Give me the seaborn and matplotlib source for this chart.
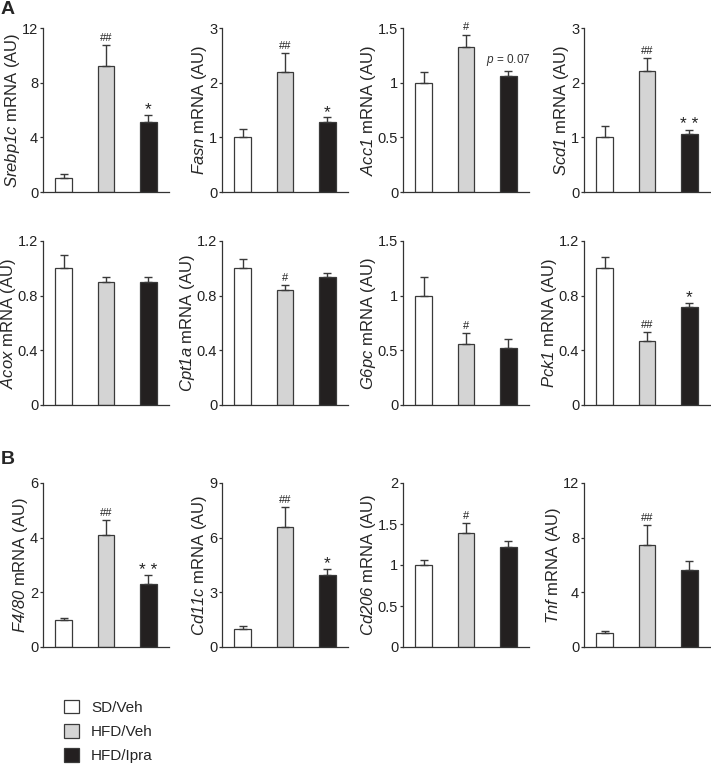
import numpy as np
import pandas as pd
import matplotlib
matplotlib.use("Agg")
import matplotlib.pyplot as plt
from matplotlib.patches import Patch
from matplotlib.ticker import FormatStrFormatter
import seaborn as sns

# Values (mean and upper SEM per gene)
genes = ["Srebp1c", "Fasn", "Acc1", "Scd1",
         "Acox", "Cpt1a", "G6pc", "Pck1",
         "F4/80", "Cd11c", "Cd206", "Tnf"]
groups = ["SD/Veh", "HFD/Veh", "HFD/Ipra"]

sd_veh = [1.0, 1.0, 1.0, 1.0, 1.0, 1.0, 1.0, 1.0, 1.0, 1.0, 1.0, 1.0]
sd_veh_err = [0.3, 0.15, 0.1, 0.2, 0.1, 0.07, 0.17, 0.08, 0.07, 0.17, 0.055, 0.2]
hfd_veh = [9.2, 2.2, 1.33, 2.22, 0.9, 0.84, 0.555, 0.47, 4.08, 6.57, 1.39, 7.45]
hfd_veh_err = [1.55, 0.35, 0.11, 0.23, 0.035, 0.04, 0.1, 0.065, 0.56, 1.1, 0.125, 1.45]
hfd_ipra = [5.1, 1.28, 1.06, 1.06, 0.9, 0.935, 0.525, 0.72, 2.32, 3.96, 1.225, 5.6]
hfd_ipra_err = [0.55, 0.09, 0.05, 0.08, 0.035, 0.033, 0.075, 0.03, 0.3, 0.33, 0.065, 0.7]

y_max = [12, 3, 1.5, 3, 1.2, 1.2, 1.5, 1.2, 6, 9, 2, 12]
y_step = [4, 1, 0.5, 1, 0.4, 0.4, 0.5, 0.4, 2, 3, 0.5, 4]

hfd_veh_marks = ["##", "##", "#", "##", "", "#", "#", "##", "##", "##", "#", "##"]
hfd_ipra_marks = ["*", "*", "p", "* *", "", "", "", "*", "* *", "*", "", ""]

colors = ["#ffffff", "#d4d4d4", "#231f20"]
edge = "#3a3a3a"

sns.set_style("ticks")
plt.rcParams["font.family"] = ["Liberation Sans", "DejaVu Sans"]
# gene names go in \mathrm, which is mapped to the italic face (digits included)
plt.rcParams["mathtext.fontset"] = "custom"
plt.rcParams["mathtext.rm"] = "Liberation Sans:italic"
plt.rcParams["mathtext.it"] = "Liberation Sans:italic"

fig = plt.figure(figsize=(7.11, 7.64), dpi=100)

W, H = 711, 764
col_left = [43, 222, 403, 584]
ax_w = 126
row_top = [28, 241, 483]
ax_h = 164

for i, gene in enumerate(genes):
    r, c = divmod(i, 4)
    ax = fig.add_axes([col_left[c] / W, 1 - (row_top[r] + ax_h) / H, ax_w / W, ax_h / H])
    df = pd.DataFrame({"group": groups,
                       "value": [sd_veh[i], hfd_veh[i], hfd_ipra[i]],
                       "err": [sd_veh_err[i], hfd_veh_err[i], hfd_ipra_err[i]]})
    sns.barplot(data=df, x="group", y="value", hue="group", palette=colors,
                width=0.4, edgecolor=edge, linewidth=0.9, legend=False, ax=ax)
    xs = np.arange(3)
    ax.errorbar(xs, df["value"], yerr=[np.zeros(3), df["err"]], fmt="none",
                ecolor=edge, elinewidth=1.0, capsize=2.9, capthick=1.0, zorder=1)
    ax.set_xlim(-0.49, 2.49)
    ax.set_ylim(0, y_max[i])
    ax.set_yticks(np.arange(0, y_max[i] + 1e-9, y_step[i]))
    ax.yaxis.set_major_formatter(FormatStrFormatter("%g"))
    ax.set_xticks([])
    ax.set_xlabel("")
    ax.set_ylabel(r"$\mathrm{" + gene + r"}$ mRNA (AU)", fontsize=12, labelpad=0)
    ax.tick_params(axis="y", length=2.5, width=0.9, pad=1, labelsize=10.5, colors="#333333")
    ax.tick_params(axis="y", labelcolor="#222222")
    for s in ["left", "bottom"]:
        ax.spines[s].set_linewidth(0.9)
        ax.spines[s].set_color("#333333")
    sns.despine(ax=ax)

    tops = [sd_veh[i] + sd_veh_err[i], hfd_veh[i] + hfd_veh_err[i], hfd_ipra[i] + hfd_ipra_err[i]]
    if hfd_veh_marks[i]:
        ax.annotate(hfd_veh_marks[i], (1, tops[1]), xytext=(0, 1.5), textcoords="offset points",
                    ha="center", va="bottom", fontsize=8, color="#222222")
    m = hfd_ipra_marks[i]
    if m == "p":
        ax.annotate(r"$\mathrm{p}$ = 0.07", (2, tops[2]), xytext=(0, 2), textcoords="offset points",
                    ha="center", va="bottom", fontsize=8.5, color="#333333")
    elif m:
        ax.annotate(m, (2, tops[2]), xytext=(0, -2), textcoords="offset points",
                    ha="center", va="bottom", fontsize=12.5, color="#222222")

fig.text(1 / W, 1 - 1 / H, "A", fontsize=14, fontweight="bold", va="top", ha="left")
fig.text(1 / W, 1 - 451 / H, "B", fontsize=14, fontweight="bold", va="top", ha="left")

handles = [Patch(facecolor=col, edgecolor=edge, linewidth=0.9, label=g) for g, col in zip(groups, colors)]
fig.legend(handles=handles, loc="upper left", bbox_to_anchor=(50 / W, 1 - 686 / H),
           frameon=False, fontsize=11, handlelength=1.0, handleheight=1.0,
           handletextpad=0.8, labelspacing=0.6)

fig.savefig("out.png", dpi=100)
